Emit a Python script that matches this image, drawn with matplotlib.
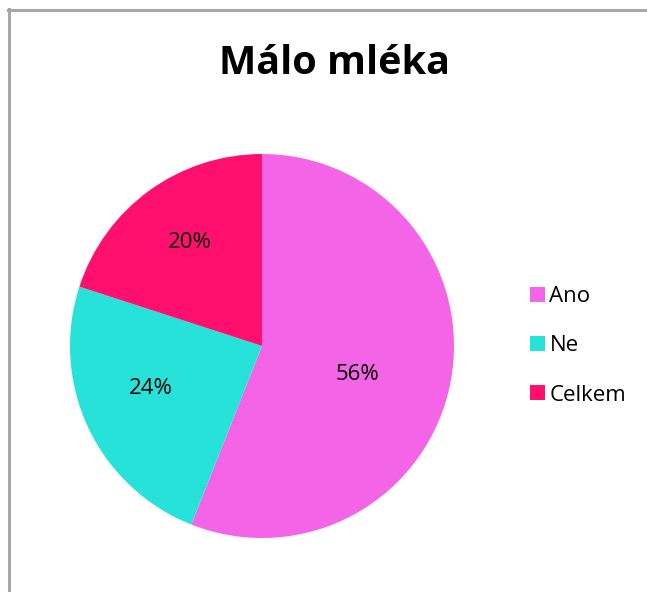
import numpy as np
import matplotlib
matplotlib.use("Agg")
import matplotlib.pyplot as plt
from matplotlib.patches import Patch
from matplotlib.lines import Line2D

# Data
labels = ["Ano", "Ne", "Celkem"]
values = [56, 24, 20]
colors = ["#F364E6", "#27E2D9", "#FF0F6E"]
title = "Málo mléka"

plt.rcParams["font.family"] = ["Open Sans", "DejaVu Sans"]

W, H = 647, 592
fig = plt.figure(figsize=(W / 100, H / 100), dpi=100)

# grey frame, only left and top edges visible
fig.add_artist(Line2D([8.5 / W, 8.5 / W], [0, 1 - 9 / H], color="#A6A6A6", lw=2.2,
                      transform=fig.transFigure))
fig.add_artist(Line2D([7.5 / W, 1], [1 - 10 / H, 1 - 10 / H], color="#A6A6A6", lw=2.2,
                      transform=fig.transFigure))

fig.text(334 / W, 1 - 63 / H, title, ha="center", va="center",
         fontsize=28.5, fontweight="bold")

cx, cy, r = 262, 346, 192
ax = fig.add_axes([(cx - r) / W, (H - cy - r) / H, 2 * r / W, 2 * r / H])
wedges, _ = ax.pie(values, colors=colors, startangle=90, counterclock=False,
                   radius=1, wedgeprops=dict(linewidth=0))
ax.set_xlim(-1, 1)
ax.set_ylim(-1, 1)
ax.set_aspect("equal")
ax.axis("off")

# percentage labels inside the slices (distance from centre, angle shift)
dists = [0.52, 0.62, 0.655]
shifts = [-5.5, -4.5, -1.0]
for w, v, d, s in zip(wedges, values, dists, shifts):
    ang = np.deg2rad((w.theta1 + w.theta2) / 2 + s)
    ax.text(d * np.cos(ang), d * np.sin(ang), f"{v}%", ha="center", va="center",
            fontsize=16)

handles = [Patch(facecolor=c, edgecolor="none") for c in colors]
fig.legend(handles, labels, loc="center left", bbox_to_anchor=(519 / W, 1 - 346 / H),
           frameon=False, fontsize=16, handlelength=0.65, handleheight=0.65,
           handletextpad=0.22, labelspacing=1.27, borderpad=0)

fig.savefig("out.png", dpi=100, facecolor="white")
